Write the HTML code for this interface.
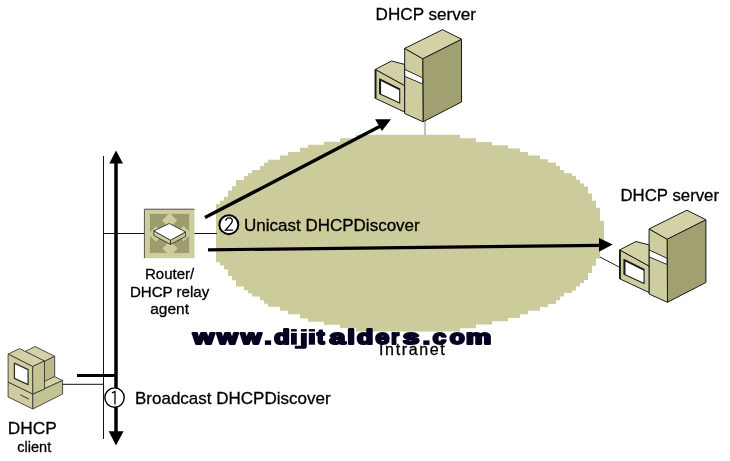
<!DOCTYPE html>
<html><head><meta charset="utf-8">
<style>
html,body{margin:0;padding:0;background:#fff;width:730px;height:461px;overflow:hidden}
svg{display:block;will-change:transform}
text{font-family:"Liberation Sans",sans-serif;fill:#000;stroke:#000;stroke-width:0.3px}
.wm text{fill:#060322;stroke:#060322;stroke-width:2.2px;stroke-linejoin:round}
</style></head><body>
<svg width="730" height="461" viewBox="0 0 730 461">
<defs>
<g id="server" stroke="#1a1a1a" stroke-width="1" stroke-linejoin="round">
  <polygon points="422.7,58.7 461.5,39.2 461.5,102 423.1,121.8" fill="#a0a070"/>
  <polygon points="404.7,48.4 422.7,58.7 423.1,121.8 404.6,113.5" fill="#cdcd9f"/>
  <polygon points="442.5,29.7 461.5,39.2 422.7,58.7 404.7,48.4" fill="#d2d2a6"/>
  <polygon points="404.6,69.4 422.6,77.8 422.6,83.9 404.6,76.3" fill="#fff" stroke-width="0.9"/>
  <polygon points="375.3,69.4 404.6,85.5 404.6,112 375.3,98.3" fill="#cdcd9f"/>
  <polygon points="375.3,69.4 391.5,61 404.6,64.4 404.6,85.5" fill="#d2d2a6"/>
  <line x1="375.6" y1="69.4" x2="375.6" y2="98.5" stroke-width="1.8"/>
  <polygon points="379.6,78.9 399.7,88.9 399.7,103 379.6,93.8" fill="#fff" stroke-width="1.1"/>
  <path d="M380.3,94 V79.8 L399.7,89.5" fill="none" stroke-width="1.6"/>
</g>
</defs>

<path d="M216,204.1 220,204.1 220,200.8 224,200.8 224,197 228,197 228,190.4 232,190.4 232,186.2 236,186.2 236,180 244,180 244,176.1 248,176.1 248,173.2 252,173.2 252,169.9 260,169.9 260,166.1 264,166.1 264,162.7 268,162.7 268,159.7 280,159.7 280,155.6 288,155.6 288,152.1 300,152.1 300,147.8 308,147.8 308,144.7 324,144.7 324,141.7 340,141.7 340,138.3 356,138.3 356,134.8 460,134.8 460,138.2 476,138.2 476,141.9 492,141.9 492,145.2 508,145.2 508,148.4 520,148.4 520,152.1 528,152.1 528,155.6 540,155.6 540,159.3 548,159.3 548,162.5 556,162.5 556,166.1 560,166.1 560,170 564,170 564,173.3 572,173.3 572,176 576,176 576,179.8 580,179.8 580,183.4 584,183.4 584,186.4 588,186.4 588,193.5 592,193.5 592,200.7 596,200.7 596,207.8 600,207.8 600,220.8 604,220.8 604,245.6 600,245.6 600,258.6 596,258.6 596,265.7 592,265.7 592,272.9 588,272.9 588,280 584,280 584,283 580,283 580,286.6 576,286.6 576,290.4 572,290.4 572,293.1 564,293.1 564,296.4 560,296.4 560,300.3 556,300.3 556,303.9 548,303.9 548,307.1 540,307.1 540,310.8 528,310.8 528,314.3 520,314.3 520,318 508,318 508,321.2 492,321.2 492,324.5 476,324.5 476,328.2 460,328.2 460,331.6 356,331.6 356,328.1 340,328.1 340,324.7 324,324.7 324,321.7 308,321.7 308,318.6 300,318.6 300,314.3 288,314.3 288,310.8 280,310.8 280,306.7 268,306.7 268,303.7 264,303.7 264,300.3 260,300.3 260,296.5 252,296.5 252,293.2 248,293.2 248,290.3 244,290.3 244,286.4 236,286.4 236,280.2 232,280.2 232,276 228,276 228,269.4 224,269.4 224,265.6 220,265.6 220,262.3 216,262.3Z" fill="#cbcb9c"/>

<line x1="425" y1="121" x2="425" y2="135" stroke="#808080" stroke-width="1"/>

<use href="#server"/>
<use href="#server" transform="translate(244.4,180.5)"/>

<line x1="600" y1="257" x2="620" y2="267.5" stroke="#222" stroke-width="1"/>

<line x1="103.5" y1="156" x2="103.5" y2="439" stroke="#111" stroke-width="1"/>
<line x1="116" y1="160" x2="116" y2="435" stroke="#000" stroke-width="3.5"/>
<polygon points="116,150.6 109.3,163.6 123,163.6" fill="#000"/>
<polygon points="116,445.5 108.7,431.2 123.6,431.2" fill="#000"/>

<line x1="103.5" y1="233.5" x2="217" y2="233.5" stroke="#111" stroke-width="1"/>

<!-- router -->
<g>
<rect x="144.4" y="209" width="50.1" height="49.2" fill="#cdcd9f"/>
<path d="M144.4,258.2 V209.2 H194.5" fill="none" stroke="#555" stroke-width="1"/>
<rect x="149.9" y="213.9" width="39.3" height="39" fill="#9c9c6c"/>
<clipPath id="rc"><rect x="149.9" y="213.9" width="39.3" height="39"/></clipPath>
<g fill="#cdcd9f" clip-path="url(#rc)">
<polygon points="169.6,212.9 177.2,220.5 169.6,228.1 162,220.5"/>
<polygon points="170,241 177.6,248.6 170,256.2 162.4,248.6"/>
<polygon points="156,226.2 163.8,234 156,241.8 148.2,234"/>
<polygon points="183.6,226.1 191.2,233.7 183.6,241.3 176,233.7"/>
</g>
<g stroke="#222" stroke-width="0.8" stroke-linejoin="round">
<polygon points="153.8,230.8 170.5,240.2 170.5,244.4 153.8,235.5" fill="#cdcd9f"/>
<polygon points="170.5,240.2 185.6,231.9 185.6,236.6 170.5,244.4" fill="#c4c494"/>
<polygon points="169.4,223.5 185.6,231.9 170.5,240.2 153.8,230.8" fill="#fff"/>
</g>
</g>

<!-- client -->
<g stroke="#333" stroke-width="0.85" stroke-linejoin="round">
<polygon points="8.1,382 32.8,394 62.6,380.5 38,368.5" fill="#d2d2a6"/>
<polygon points="8.1,382 32.8,394 32.8,409 8.1,397" fill="#cdcd9f"/>
<polygon points="32.8,394 62.6,380.5 62.6,394 32.8,409" fill="#c3c393"/>
<polygon points="25,351.5 35.2,346.5 54.7,356.3 44.5,361.3" fill="#d2d2a6"/>
<polygon points="44.5,361.3 54.7,356.3 54.7,376.5 44.5,381.3" fill="#b9b989"/>
<polygon points="8.1,354.1 19.5,348.6 44.5,361 32.7,366.5" fill="#d2d2a6"/>
<polygon points="8.1,354.1 32.7,366.5 32.8,394 8.1,382" fill="#cdcd9f"/>
<polygon points="32.7,366.5 44.5,361 44.5,389 32.8,394" fill="#c3c393"/>
<polygon points="14.4,363.1 28.1,369.7 28.1,384.6 14.4,378.3" fill="#fff" stroke-width="1.3"/>
<line x1="20.3" y1="394.7" x2="28.9" y2="399.2" stroke-width="1"/>
</g>

<line x1="77" y1="375.5" x2="116" y2="375.5" stroke="#000" stroke-width="3"/>
<line x1="62.6" y1="384.3" x2="103.5" y2="384.3" stroke="#111" stroke-width="1"/>

<circle cx="114.55" cy="397.55" r="9.7" fill="#fff" stroke="#000" stroke-width="1.4"/>
<path d="M111.9,392.9 L115,391.6 V404.5" fill="none" stroke="#000" stroke-width="1.3"/>
<text x="135" y="403.5" font-size="17">Broadcast DHCPDiscover</text>

<line x1="205" y1="217.6" x2="382" y2="125.3" stroke="#000" stroke-width="3.4"/>
<polygon points="375.1,119.3 391,119.3 381.9,131" fill="#000"/>

<line x1="208" y1="249.8" x2="601" y2="245.4" stroke="#000" stroke-width="3.2"/>
<polygon points="599,238 612.7,244.5 599,251.7" fill="#000"/>

<circle cx="228.85" cy="224.7" r="9.5" fill="#fff" stroke="#000" stroke-width="2"/>
<path d="M225.7,220.8 C225.9,218.7 227.3,217.8 229,217.8 C231,217.8 232.3,219 232.3,220.8 C232.3,222.3 231.4,223.4 230,224.9 L225.4,230.2 H233" fill="none" stroke="#000" stroke-width="1.3"/>
<text x="244" y="231.2" font-size="17">Unicast DHCPDiscover</text>

<text x="375.6" y="20" font-size="17.1">DHCP server</text>
<text x="620.5" y="200.5" font-size="16.8">DHCP server</text>
<text x="169.6" y="279" font-size="15" text-anchor="middle">Router/</text>
<text x="169.6" y="297.2" font-size="15.1" text-anchor="middle">DHCP relay</text>
<text x="169.6" y="314" font-size="15.5" text-anchor="middle">agent</text>
<text x="32.2" y="433.6" font-size="17.3" text-anchor="middle">DHCP</text>
<text x="34.3" y="451.8" font-size="14.5" text-anchor="middle">client</text>

<text x="379" y="354.7" font-size="16" letter-spacing="1.65">Intranet</text>
<g class="wm" font-size="20.1" font-weight="bold" fill="#060322" stroke="#060322" stroke-width="1.4" stroke-linejoin="round" text-anchor="middle">
<text transform="translate(203.60,344.20) scale(1.356,0.960) translate(-0.00,0)">w</text>
<text transform="translate(227.60,344.20) scale(1.311,0.960) translate(-0.00,0)">w</text>
<text transform="translate(251.15,344.20) scale(1.306,0.960) translate(-0.00,0)">w</text>
<text transform="translate(282.00,344.20) scale(1.250,0.960) translate(-0.00,0)">d</text>
<text transform="translate(320.65,344.20) scale(1.113,0.960) translate(-0.00,0)">t</text>
<text transform="translate(338.15,344.20) scale(1.412,0.960) translate(-0.50,0)">a</text>
<text transform="translate(351.85,344.20) scale(1.300,0.960) translate(-0.50,0)">l</text>
<text transform="translate(365.10,344.20) scale(1.317,0.960) translate(-0.00,0)">d</text>
<text transform="translate(382.50,344.20) scale(1.233,0.960) translate(-0.00,0)">e</text>
<text transform="translate(395.65,344.20) scale(0.989,0.960) translate(-0.50,0)">r</text>
<text transform="translate(411.10,344.20) scale(1.458,0.960) translate(-0.00,0)">s</text>
<text transform="translate(439.40,344.20) scale(1.200,0.960) translate(-0.00,0)">c</text>
<text transform="translate(456.50,344.20) scale(1.215,0.960) translate(0.50,0)">o</text>
<text transform="translate(478.45,344.20) scale(1.406,0.960) translate(-0.00,0)">m</text>
<g stroke="none"><rect x="291" y="329.1" width="5.8" height="2.4"/><rect x="291" y="332.9" width="5.8" height="11.8"/><rect x="300.9" y="329.1" width="5.9" height="2.4"/><path d="M300.9,332.9 H306.8 V346.2 Q306.8,348.8 304,348.8 H294.8 V345.8 H300.9 Z"/><rect x="308.8" y="329.1" width="6.2" height="2.4"/><rect x="264.9" y="340.4" width="6.2" height="4.5"/><rect x="423.3" y="340.4" width="6.2" height="4.5"/><rect x="308.8" y="332.9" width="6.2" height="11.8"/></g>
</g>


</svg>
</body></html>
